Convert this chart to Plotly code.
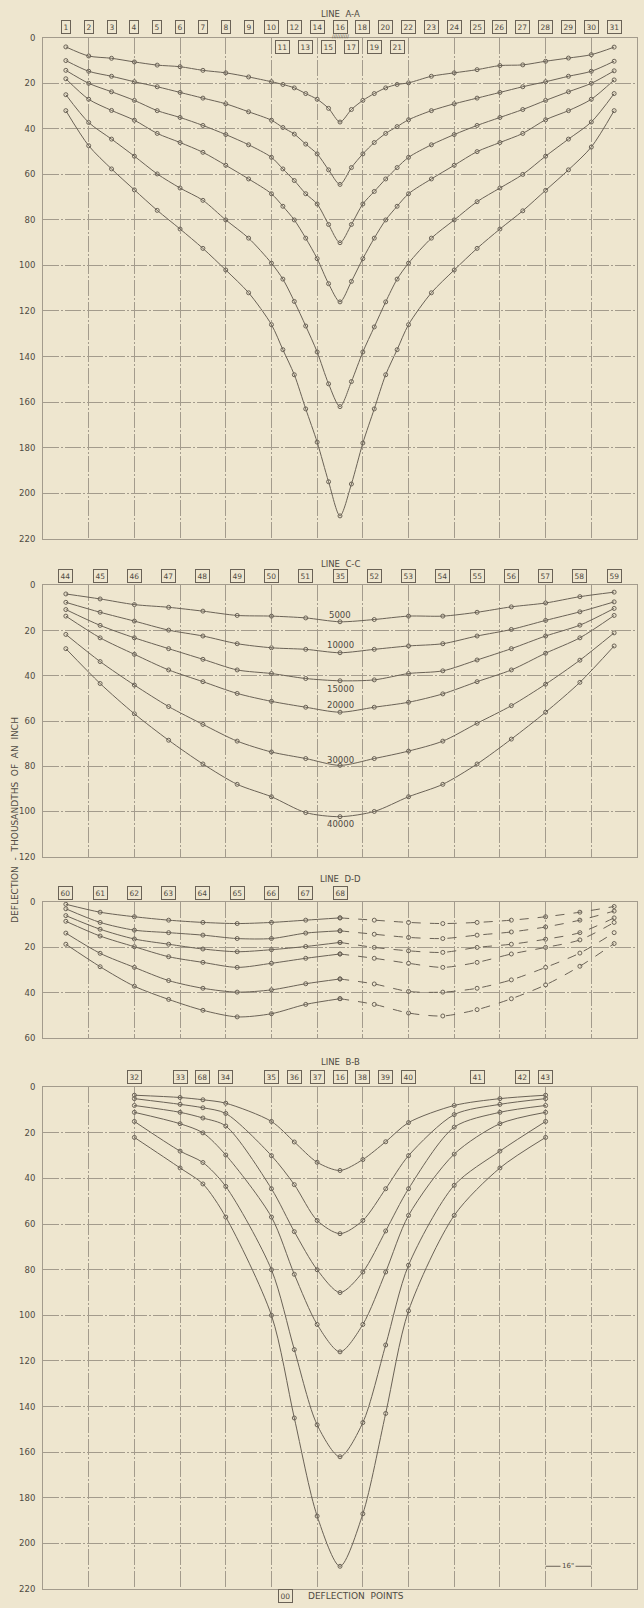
import plotly.graph_objects as go

W, H = 644, 1608
BG = "#eee6cf"
INK = "#6a6256"
GRID = "#a39b8c"
TXT = "#4f4a42"
FONT = "DejaVu Sans"

# ---------------- LINE A-A ----------------
a_labels_row1 = ["1", "2", "3", "4", "5", "6", "7", "8", "9", "10", "12", "14", "16", "18", "20",
                 "22", "23", "24", "25", "26", "27", "28", "29", "30", "31"]
a_pos_row1 = [1, 2, 3, 4, 5, 6, 7, 8, 9, 10, 11, 12, 13, 14, 15, 16, 17, 18, 19, 20, 21, 22, 23, 24, 25]
a_labels_row2 = ["11", "13", "15", "17", "19", "21"]
a_pos_row2 = [10.5, 11.5, 12.5, 13.5, 14.5, 15.5]
a_x = [1, 2, 3, 4, 5, 6, 7, 8, 9, 10, 10.5, 11, 11.5, 12, 12.5, 13, 13.5, 14, 14.5, 15, 15.5,
       16, 17, 18, 19, 20, 21, 22, 23, 24, 25]
a_c1 = [4, 8, 9, 10.6, 12, 12.7, 14.3, 15.4, 17.2, 19.3, 20.5, 22, 24.5, 27, 31, 37,
        31.5, 27.5, 24.5, 22, 20.5, 19.8, 16.9, 15.4, 14, 12.2, 11.9, 10.3, 8.9, 7.4, 4.1]
a_c2 = [10, 14.7, 16.9, 19.3, 21.5, 24, 26.5, 29, 32.5, 36.2, 39.4, 42.3, 46.7, 51, 58, 64.4,
        57, 51, 46, 42, 39, 36, 32, 29, 26.5, 24, 21.5, 19.3, 16.9, 14.7, 10.3]
a_c3 = [14.3, 20, 23.7, 27.5, 32, 35, 38.5, 42.5, 47, 52.5, 57.6, 62.7, 68.5, 73, 82, 90,
        82, 73, 67.5, 62, 57, 52.5, 47, 42.5, 38.5, 35, 31.5, 27.5, 23.7, 20, 14.5]
a_c4 = [18, 27, 31.9, 36.2, 42, 46, 50.3, 56, 62, 68.5, 74, 80, 88, 97, 108, 116,
        107, 97, 88, 80, 74, 68.5, 62, 56, 50, 46, 42, 36, 32, 27, 18.5]
a_c5 = [25, 37.2, 44.5, 52, 59.8, 66, 71.4, 80, 88, 99, 106, 115.8, 126.6, 138, 152, 162,
        151, 138, 127, 116, 106, 99, 88, 80, 72, 66, 60, 52, 44.5, 37, 24.5]
a_c6 = [32, 47.4, 57.6, 66.8, 75.8, 84, 92.5, 102, 112, 126, 137, 148, 163, 177.6, 195, 210,
        196, 178, 163, 148, 137, 126, 112, 102, 92.5, 84, 76, 67, 58, 48, 32]

# ---------------- LINE C-C ----------------
c_labels = ["44", "45", "46", "47", "48", "49", "50", "51", "35", "52", "53", "54", "55", "56", "57", "58", "59"]
c_x = [1, 2.5, 4, 5.5, 7, 8.5, 10, 11.5, 13, 14.5, 16, 17.5, 19, 20.5, 22, 23.5, 25]
c_loads = ["5000", "10000", "15000", "20000", "30000", "40000"]
c_load_label_y = [13, 26.2, 46, 53, 77.3, 105.5]
c_5000 = [3.8, 6, 8.5, 9.7, 11.4, 13.3, 13.6, 14.4, 16.1, 15.1, 13.6, 13.6, 11.9, 9.5, 7.8, 5, 3]
c_10000 = [7.5, 11.9, 15.8, 19.8, 22.4, 25.8, 27.6, 28.3, 29.8, 28.3, 26.8, 25.8, 22.4, 19.5, 15.5, 11.7, 7.3]
c_15000 = [10.7, 17.7, 23.2, 28, 32.7, 37.4, 39, 41.2, 42.2, 41.8, 39, 37.8, 33, 28, 22.4, 17.6, 10.2]
c_20000 = [13.6, 23.2, 30.5, 37.4, 42.6, 47.8, 51.3, 53.9, 56.1, 53.9, 51.7, 48, 42.6, 37.4, 30, 23.2, 13.3]
c_30000 = [21.7, 33.7, 44.1, 53.6, 61.5, 68.9, 73.7, 76.6, 79.6, 76.6, 73.3, 68.9, 61, 53.2, 43.7, 33.1, 21]
c_40000 = [28, 43.4, 56.8, 68.5, 79, 88, 93.5, 100.5, 102.3, 100, 93.5, 88, 79, 68, 56.1, 42.9, 26.8]

# ---------------- LINE D-D ----------------
d_labels = ["60", "61", "62", "63", "64", "65", "66", "67", "68"]
d_x = [1, 2.5, 4, 5.5, 7, 8.5, 10, 11.5, 13, 14.5, 16, 17.5, 19, 20.5, 22, 23.5, 25]
d_c1 = [1, 4.5, 6.5, 8, 9, 9.5, 9, 8, 7, 8, 9, 9.5, 9, 8, 6.5, 4.5, 2]
d_c2 = [3, 9, 12.4, 13.5, 14.6, 16.1, 16.1, 13.7, 12.7, 14.2, 15.6, 16.1, 14.6, 13.2, 11, 8, 4]
d_c3 = [6, 12, 16.3, 18.6, 20.7, 21.9, 21, 19.6, 17.8, 20, 21.5, 22.2, 20, 18.6, 16.4, 13.5, 7]
d_c4 = [8.5, 15, 19.7, 24.1, 26.6, 28.8, 27, 24.8, 22.9, 24.8, 27, 28.8, 26.6, 22.9, 20, 16.7, 9]
d_c5 = [13.7, 22.6, 28.8, 34.6, 38, 39.7, 38.7, 36, 33.9, 36.1, 39.4, 39.7, 38, 34.3, 28.8, 22.5, 13.5]
d_c6 = [18.6, 28.5, 37.1, 42.9, 47.7, 50.6, 49.2, 45.1, 42.6, 45.1, 48.9, 50.2, 47.4, 42.6, 36.5, 28.3, 18.3]

# ---------------- LINE B-B ----------------
b_labels = ["32", "33", "68", "34", "35", "36", "37", "16", "38", "39", "40", "41", "42", "43"]
b_label_pos = [4, 6, 7, 8, 10, 11, 12, 13, 14, 15, 16, 19, 21, 22]
b_x = [4, 6, 7, 8, 10, 11, 12, 13, 14, 15, 16, 18, 20, 22]
b_c1 = [3.5, 4.5, 5.5, 7, 15, 24, 32.9, 36.5, 31.7, 23.9, 15.5, 8, 5, 3.5]
b_c2 = [5, 7.5, 9, 11.5, 30, 42.7, 58.4, 64.2, 58.4, 44.5, 30, 12, 7.5, 5]
b_c3 = [8, 11, 13.5, 17, 44.5, 63.3, 80, 90, 81, 63, 44.5, 17.5, 11, 8]
b_c4 = [11, 16, 20, 29.7, 56.9, 82, 104, 116, 104, 81, 56.2, 29.3, 16, 11]
b_c5 = [15, 28, 33, 43.5, 80, 115, 148, 162, 147, 113, 78, 43, 28, 15]
b_c6 = [22, 35.4, 42.4, 56.9, 100, 145, 188, 210, 187, 143, 98, 56.2, 35.4, 22]

y_ticks_220 = [0, 20, 40, 60, 80, 100, 120, 140, 160, 180, 200, 220]
y_ticks_120 = [0, 20, 40, 60, 80, 100, 120]
y_ticks_60 = [0, 20, 40, 60]

fig = go.Figure()


def py(pix):
    return 1 - pix / H


def add_curve(xs, ys, xa, ya, dash="solid"):
    fig.add_trace(go.Scatter(
        x=xs, y=ys, xaxis=xa, yaxis=ya, mode="lines+markers",
        line=dict(color=INK, width=1.0, shape="spline", smoothing=0.8, dash=dash),
        marker=dict(symbol="circle-open", size=4, color=INK, line=dict(width=1, color=INK)),
        hoverinfo="skip", showlegend=False))


for s in [a_c1, a_c2, a_c3, a_c4, a_c5, a_c6]:
    add_curve(a_x, s, "x", "y")
for s in [c_5000, c_10000, c_15000, c_20000, c_30000, c_40000]:
    add_curve(c_x, s, "x2", "y2")
for s in [d_c1, d_c2, d_c3, d_c4, d_c5, d_c6]:
    add_curve(d_x[:9], s[:9], "x3", "y3")
    add_curve(d_x[8:], s[8:], "x3", "y3", dash="dash")
for s in [b_c1, b_c2, b_c3, b_c4, b_c5, b_c6]:
    add_curve(b_x, s, "x4", "y4")

XDOM = [43 / W, 637 / W]
GDASH = "16px,2px,2px,2px"


def xax(anchor):
    return dict(domain=XDOM, range=[0, 26], anchor=anchor, showticklabels=False,
                tick0=0, dtick=2, showgrid=True, gridcolor=GRID, gridwidth=0.8, griddash=GDASH,
                zeroline=False, showline=True, mirror=True, linecolor=GRID, linewidth=1, ticks="")


def yax(anchor, top, bottom, rng, ticks):
    return dict(domain=[1 - bottom / H, 1 - top / H], range=rng, anchor=anchor,
                tickvals=ticks, ticktext=[str(t) for t in ticks],
                tickfont=dict(family=FONT, size=8.5, color=TXT),
                showgrid=True, gridcolor=GRID, gridwidth=0.8, griddash=GDASH, zeroline=False,
                showline=True, mirror=True, linecolor=GRID, linewidth=1, ticks="",
                ticklabelstandoff=5)


annotations = []


def note(**kw):
    kw.setdefault("xanchor", "center")
    kw.setdefault("yanchor", "middle")
    kw.setdefault("showarrow", False)
    annotations.append(kw)


def box(text, x, xref, ypix, size=7.5):
    note(text=text, x=x, xref=xref, y=py(ypix), yref="paper",
         font=dict(family=FONT, size=size, color=TXT),
         bordercolor=INK, borderwidth=1, borderpad=1.5, bgcolor=BG)


def title(text, ypix):
    note(text=text, x=340 / W, xref="paper", y=py(ypix), yref="paper",
         font=dict(family=FONT, size=8.5, color=TXT))


title("LINE  A-A", 9)
for t, x in zip(a_labels_row1, a_pos_row1):
    box(t, x, "x", 22)
for t, x in zip(a_labels_row2, a_pos_row2):
    box(t, x, "x", 42)
note(text="//////////", x=13, xref="x", y=py(31), yref="paper",
     font=dict(family=FONT, size=5, color=TXT))

title("LINE  C-C", 562)
for t, x in zip(c_labels, c_x):
    box(t, x, "x2", 575)
for t, yv in zip(c_loads, c_load_label_y):
    note(text=t, x=13, xref="x2", y=yv, yref="y2", font=dict(family=FONT, size=8.5, color=TXT))

title("LINE  D-D", 879)
for t, x in zip(d_labels, d_x[:9]):
    box(t, x, "x3", 894)

title("LINE  B-B", 1064)
for t, x in zip(b_labels, b_label_pos):
    box(t, x, "x4", 1079)

# 16 inch scale marker
note(text="16\"", x=23, xref="x4", y=210, yref="y4",
     font=dict(family=FONT, size=7, color=TXT), bgcolor=BG)
shapes = [dict(type="line", x0=22, x1=24, y0=210, y1=210, xref="x4", yref="y4",
               line=dict(color=INK, width=1), layer="below")]

# axis title
note(text="DEFLECTION  -  THOUSANDTHS  OF  AN  INCH", x=15 / W, xref="paper",
     y=py(820), yref="paper", textangle=-90, font=dict(family=FONT, size=9, color=TXT))
# bottom legend
box("00", 285 / W, "paper", 1601, size=7.5)
note(text="DEFLECTION  POINTS", x=356 / W, xref="paper", y=py(1601), yref="paper",
     font=dict(family=FONT, size=9, color=TXT))

fig.update_layout(
    width=W, height=H, margin=dict(l=0, r=0, t=0, b=0),
    paper_bgcolor=BG, plot_bgcolor=BG, showlegend=False,
    xaxis=xax("y"), yaxis=yax("x", 33, 537, [220, 0], y_ticks_220),
    xaxis2=xax("y2"), yaxis2=yax("x2", 584, 857, [120, 0], y_ticks_120),
    xaxis3=xax("y3"), yaxis3=yax("x3", 902.6, 1039.7, [60, 0], y_ticks_60),
    xaxis4=xax("y4"), yaxis4=yax("x4", 1089, 1594, [220, 0], y_ticks_220),
    annotations=annotations, shapes=shapes,
)

fig.write_html(
    "out.html",
    config={"displayModeBar": False},
    post_script="document.body.style.margin='0';document.body.style.padding='0';"
                "document.body.style.background='" + BG + "';"
                "document.documentElement.style.background='" + BG + "';",
)
